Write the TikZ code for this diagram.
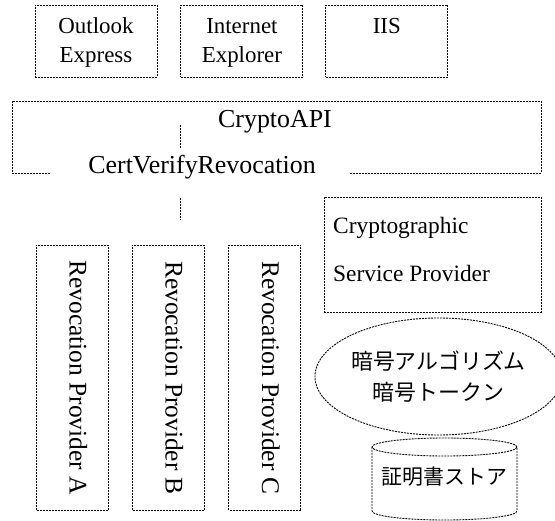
\documentclass[tikz,border=0pt]{standalone}
\usepackage{fontspec}
\setmainfont{Liberation Serif}
\newfontfamily\jpfont{Noto Sans CJK JP}
\usepackage{tikz}
\usetikzlibrary{positioning}
\usetikzlibrary{shapes.geometric}
\tikzset{
    frame/.style = {draw,line width=0.9bp,dash pattern=on 2bp off 1bp},
    link/.style = {line width=0.9bp,dash pattern=on 2bp off 1bp},
    app/.style = {frame,minimum width=122bp,minimum height=72bp,inner sep=0,align=center,text height=49bp,text depth=5bp,font=\fontsize{23}{30}\selectfont},
    revprov/.style = {frame,rotate=-90,minimum width=265bp,minimum height=72bp,inner sep=0,text depth=13bp,font=\fontsize{25.5}{30}\selectfont},
    apitext/.style = {inner sep=0,anchor=base,font=\fontsize{26}{30}\selectfont},
    csptext/.style = {inner sep=0,anchor=base west,font=\fontsize{23.5}{30}\selectfont},
    jptext/.style = {inner sep=0,align=center,font=\jpfont\fontsize{22}{32}\selectfont}
}

\begin{document}
\begin{tikzpicture}[x=1bp,y=-1bp]
    \newcommand*\rpy{377.5}
    \useasboundingbox (0,0) rectangle (555,521);
    % Applications
    \node[app] (oe) at (96,41) {Outlook\\Express};
    \node[app,right=23bp of oe] (ie) {Internet\\Explorer};
    \node[app,right=22bp of ie] (iis) {IIS\\\mbox{}};
    % CryptoAPI layer
    \draw[frame] (50,173) -| (12,101) -| (541,173) -- (349,173);
    \node[apitext] (capi) at (275,128) {CryptoAPI};
    \node[apitext] (cvr) at (202,174) {CertVerifyRevocation};
    \coordinate (lka) at (180,125);
    \coordinate (lkb) at (180,148);
    \coordinate (lkc) at (180,198);
    \coordinate (lkd) at (180,220);
    \foreach \src/\dest in {lka/lkb,lkc/lkd}
        \draw[link] (\src) -- (\dest);
    % Revocation providers
    \foreach \name/\x in {A/72,B/168,C/264.5}
        \node[revprov] (rp\name) at (\x,\rpy) {Revocation Provider \name};
    % CSP
    \node[frame,minimum width=217bp,minimum height=115bp,inner sep=0] (csp) at (432.5,254.5) {};
    \node[csptext] (cspa) at (333,233) {Cryptographic};
    \node[csptext] (cspb) at (333,281) {Service Provider};
    \node[frame,ellipse,jptext,minimum width=229bp,minimum height=117bp] (algo) at (438.5,376.5) {暗号アルゴリズム\\暗号トークン};
    % Certificate store
    \node[jptext,font=\jpfont\fontsize{21}{30}\selectfont] (store) at (444.5,477) {証明書ストア};
    \draw[frame] (444.5,447) ellipse [x radius=72.5bp,y radius=9bp];
    \draw[frame] (372,447) -- (372,511) arc[start angle=180,end angle=360,x radius=72.5bp,y radius=9bp] -- (517,447);
\end{tikzpicture}
\end{document}
